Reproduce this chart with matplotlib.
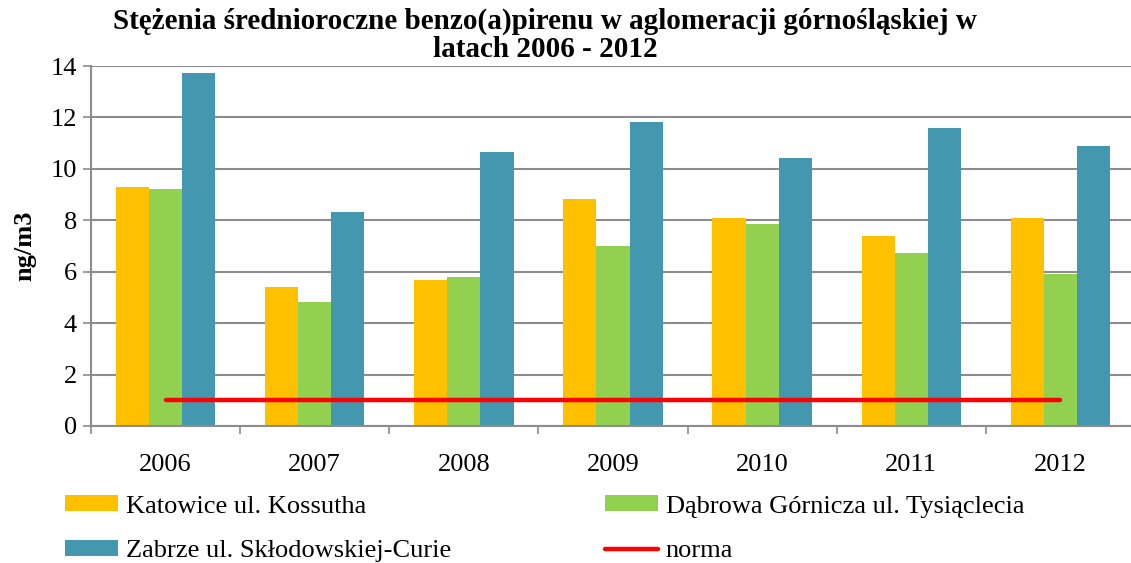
import matplotlib.pyplot as plt
import numpy as np

plt.rcParams['font.family'] = ['Liberation Serif', 'DejaVu Serif']

years = ['2006', '2007', '2008', '2009', '2010', '2011', '2012']
katowice = [9.29, 5.40, 5.69, 8.81, 8.08, 7.40, 8.09]
dabrowa = [9.20, 4.81, 5.79, 6.99, 7.84, 6.73, 5.91]
zabrze = [13.71, 8.34, 10.65, 11.83, 10.43, 11.60, 10.88]
norma = [1, 1, 1, 1, 1, 1, 1]

labels = ['Katowice ul. Kossutha', 'Dąbrowa Górnicza ul. Tysiąclecia',
          'Zabrze ul. Skłodowskiej-Curie', 'norma']
colors = ['#FFC000', '#92D050', '#4398B0', '#FF0000']

fig = plt.figure(figsize=(11.31, 5.63), dpi=100)
ax = fig.add_axes([91 / 1131, 1 - 426 / 563, 1044 / 1131, 360 / 563])

x = np.arange(len(years))
w = 0.222
b1 = ax.bar(x - w, katowice, w, color=colors[0], edgecolor='none')
b2 = ax.bar(x, dabrowa, w, color=colors[1], edgecolor='none')
b3 = ax.bar(x + w, zabrze, w, color=colors[2], edgecolor='none')
ln, = ax.plot(x, norma, color=colors[3], lw=3.2, solid_capstyle='round')

ax.set_xlim(-0.5, len(years) - 0.5)
ax.set_ylim(0, 14)
ax.set_yticks(np.arange(0, 15, 2))
ax.yaxis.grid(True, color='#8c8c8c', lw=1.5)
ax.set_axisbelow(True)

ax.set_xticks(np.arange(-0.5, len(years), 1))
ax.set_xticklabels([])
ax.set_xticks(x, minor=True)
ax.set_xticklabels(years, minor=True)
ax.tick_params(axis='x', which='major', length=6, color='#8c8c8c', width=1.2)
ax.tick_params(axis='x', which='minor', length=0, pad=20, labelsize=19)
ax.tick_params(axis='y', length=6, color='#8c8c8c', width=1.2, labelsize=19, pad=4)

for s in ['top', 'right']:
    ax.spines[s].set_visible(False)
for s in ['left', 'bottom']:
    ax.spines[s].set_color('#8c8c8c')
    ax.spines[s].set_linewidth(1.5)

ax.set_ylabel('ng/m3', fontsize=19, fontweight='bold', labelpad=10)

fig.text(0.482, 0.986, 'Stężenia średnioroczne benzo(a)pirenu w aglomeracji górnośląskiej w\nlatach 2006 - 2012',
         ha='center', va='top', fontsize=21, fontweight='bold', linespacing=1.05)

fig.legend([b1, b3, b2, ln], [labels[0], labels[2], labels[1], labels[3]],
           ncol=2, loc='upper left', bbox_to_anchor=(0.048, 0.139), frameon=False,
           fontsize=19, handlelength=2.0, handleheight=0.55, handletextpad=0.3,
           columnspacing=5.85, labelspacing=0.85, borderaxespad=0)

fig.savefig('out.png', dpi=100)
